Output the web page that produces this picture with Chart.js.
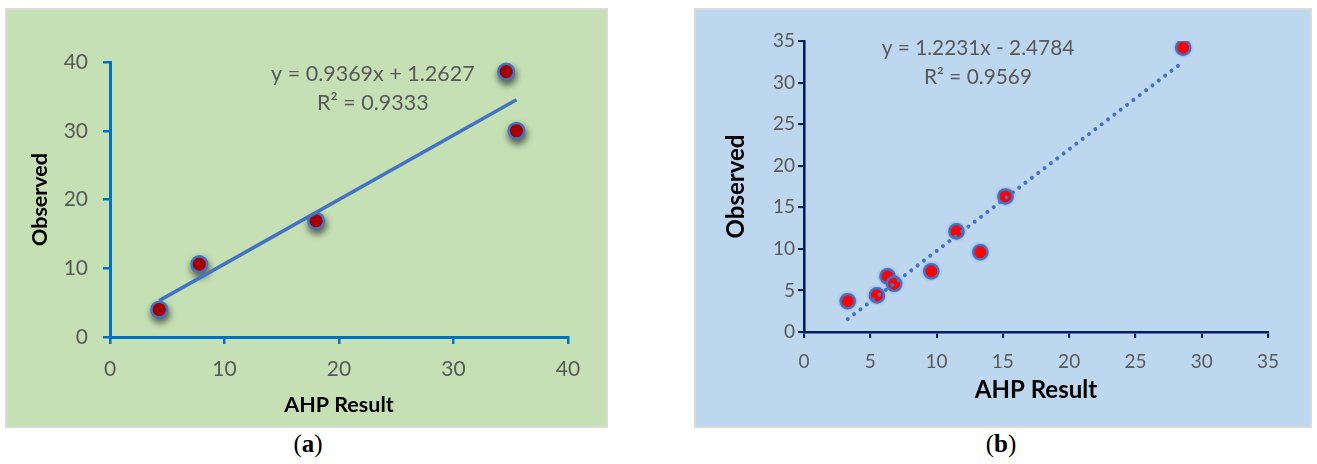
<!DOCTYPE html>
<html>
<head>
<meta charset="utf-8">
<script src="https://cdn.jsdelivr.net/npm/chart.js@4.4.1/dist/chart.umd.min.js"></script>
<style>
  html, body { margin: 0; padding: 0; background: #fff; width: 1317px; height: 464px; overflow: hidden; }
  .panel { position: absolute; box-sizing: border-box; border: 2px solid #dadada; }
  #panelA { left: 5px; top: 8px; width: 603px; height: 420px; background: #c5e0b4; }
  #panelB { left: 694px; top: 8px; width: 618px; height: 420px; background: #bdd7ee; }
  canvas { display: block; }
  .cap { position: absolute; top: 430px; width: 80px; text-align: center;
         font-family: "Liberation Serif", "DejaVu Serif", serif; font-size: 25px; color: #000; }
</style>
</head>
<body>
<div class="panel" id="panelA"><canvas id="chartA" width="599" height="416"></canvas></div>
<div class="panel" id="panelB"><canvas id="chartB" width="614" height="416"></canvas></div>
<div class="cap" style="left:268px">(<b>a</b>)</div>
<div class="cap" style="left:961px">(<b>b</b>)</div>
<script>
// (a) AHP result vs observed, five sites
const aAhp = [4.3, 7.8, 18.0, 34.6, 35.5];
const aObserved = [4.0, 10.6, 16.9, 38.6, 30.0];
const aSlope = 0.9369;
const aIntercept = 1.2627;
const aR2 = 0.9333;
const aTicks = [0, 10, 20, 30, 40];

// (b) AHP result vs observed, nine sites
const bAhp = [3.3, 5.5, 6.3, 6.8, 9.6, 11.5, 13.3, 15.2, 28.6];
const bObserved = [3.7, 4.4, 6.7, 5.8, 7.3, 12.1, 9.6, 16.3, 34.2];
const bSlope = 1.2231;
const bIntercept = -2.4784;
const bR2 = 0.9569;
const bTicks = [0, 5, 10, 15, 20, 25, 30, 35];

const axisTitle = 'Observed';
const xTitle = 'AHP Result';

function points(xs, ys) { return xs.map((x, i) => ({ x: x, y: ys[i] })); }

// linear trend across the x-range of the data
function trend(xs, slope, intercept) {
  const lo = Math.min(...xs), hi = Math.max(...xs);
  return [{ x: lo, y: slope * lo + intercept }, { x: hi, y: slope * hi + intercept }];
}

function equationText(slope, intercept) {
  const sign = intercept < 0 ? ' - ' : ' + ';
  return 'y = ' + slope.toFixed(4) + 'x' + sign + Math.abs(intercept).toFixed(4);
}

// marker shadow drawn only for the scatter dataset
function shadowPlugin(color, blur, ox, oy) {
  return {
    id: 'markerShadow',
    beforeDatasetDraw(chart, args) {
      if (args.index !== 1) return;
      const c = chart.ctx;
      c.save();
      c.shadowColor = color; c.shadowBlur = blur; c.shadowOffsetX = ox; c.shadowOffsetY = oy;
    },
    afterDatasetDraw(chart, args) {
      if (args.index !== 1) return;
      chart.ctx.restore();
    }
  };
}

// regression equation and R² above the plot
function equationPlugin(lines, fx, fy, size) {
  return {
    id: 'equation',
    afterDraw(chart) {
      const a = chart.chartArea, c = chart.ctx;
      c.save();
      c.font = size + 'px Lato';
      c.fillStyle = '#595959';
      c.textAlign = 'center';
      c.textBaseline = 'middle';
      lines.forEach((t, i) => c.fillText(t, a.left + fx * (a.right - a.left), a.top + fy[i] * (a.bottom - a.top)));
      c.restore();
    }
  };
}

function buildChart(id, cfg) {
  const ticksCb = cfg.ticks;
  const scale = (min, max, step, fit, tickLen, pad, tickSize, titleSize, titlePad) => ({
    type: 'linear', min: min, max: max,
    afterFit: fit,
    afterBuildTicks: s => { s.ticks = ticksCb.map(v => ({ value: v })); },
    ticks: { stepSize: step, color: '#595959', padding: pad, font: { family: 'Lato', size: tickSize } },
    grid: { drawOnChartArea: false, drawTicks: true, tickLength: tickLen, color: cfg.axisColor, lineWidth: cfg.axisWidth - 0.5 },
    border: { color: cfg.axisColor, width: cfg.axisWidth },
    title: { display: true, color: '#000', font: { family: 'Lato', size: titleSize, weight: 'bold' }, padding: titlePad }
  });
  const xs = scale(cfg.ticks[0], cfg.ticks[cfg.ticks.length - 1], cfg.step, s => { s.height = cfg.xHeight; },
                   cfg.tickLen, cfg.xPad, cfg.tickSize, cfg.titleSize, { top: 0, bottom: cfg.xTitlePad });
  xs.title.text = xTitle;
  const ys = scale(cfg.ticks[0], cfg.ticks[cfg.ticks.length - 1], cfg.step, s => { s.width = cfg.yWidth; },
                   cfg.tickLen, cfg.yPad, cfg.tickSize, cfg.titleSize, { top: cfg.yTitlePad, bottom: 0 });
  ys.title.text = axisTitle;

  return new Chart(document.getElementById(id), {
    type: 'scatter',
    data: {
      datasets: [
        {
          data: trend(cfg.xs, cfg.slope, cfg.intercept),
          showLine: true, pointRadius: 0, borderColor: '#4472c4',
          borderWidth: cfg.lineWidth, borderDash: cfg.dash, borderCapStyle: cfg.cap,
          order: 0
        },
        {
          data: points(cfg.xs, cfg.ys),
          pointRadius: cfg.markerR, pointBackgroundColor: cfg.markerFill,
          pointBorderColor: '#4472c4', pointBorderWidth: cfg.markerBorder,
          order: 1
        }
      ]
    },
    options: {
      responsive: false, animation: false, devicePixelRatio: 1,
      layout: { padding: cfg.padding },
      plugins: { legend: { display: false }, tooltip: { enabled: false } },
      scales: { x: xs, y: ys }
    },
    plugins: [shadowPlugin(cfg.shadow[0], cfg.shadow[1], cfg.shadow[2], cfg.shadow[3]),
              equationPlugin(cfg.eq, cfg.eqX, cfg.eqY, cfg.eqSize)]
  });
}

buildChart('chartA', {
  xs: aAhp, ys: aObserved, slope: aSlope, intercept: aIntercept, ticks: aTicks, step: 10,
  axisColor: '#0070c0', axisWidth: 3, tickLen: 7, xPad: 13, yPad: 15, tickSize: 21, titleSize: 21.5,
  xHeight: 89, yWidth: 103, xTitlePad: 8, yTitlePad: 20,
  padding: { top: 52, right: 38, left: 0, bottom: 0 },
  lineWidth: 3.5, dash: [], cap: 'butt', markerR: 7.8, markerBorder: 2.5, markerFill: '#c00000',
  shadow: ['rgba(0,0,0,0.6)', 7, 1, 4],
  eq: [equationText(aSlope, aIntercept), 'R\u00b2 = ' + aR2.toFixed(4)], eqX: 0.574, eqY: [0.044, 0.149], eqSize: 21.5
});

buildChart('chartB', {
  xs: bAhp, ys: bObserved, slope: bSlope, intercept: bIntercept, ticks: bTicks, step: 5,
  axisColor: '#002060', axisWidth: 2.6, tickLen: 6, xPad: 12, yPad: 3, tickSize: 19, titleSize: 24,
  xHeight: 94, yWidth: 108, xTitlePad: 21, yTitlePad: 26,
  padding: { top: 31, right: 42, left: 0, bottom: 0 },
  lineWidth: 4, dash: [0.001, 8], cap: 'round', markerR: 7.2, markerBorder: 2.2, markerFill: '#ff0000',
  shadow: ['rgba(68,114,196,0.5)', 3, 0, 0],
  eq: [equationText(bSlope, bIntercept), 'R\u00b2 = ' + bR2.toFixed(4)], eqX: 0.375, eqY: [0.024, 0.124], eqSize: 20.8
});
</script>
</body>
</html>
